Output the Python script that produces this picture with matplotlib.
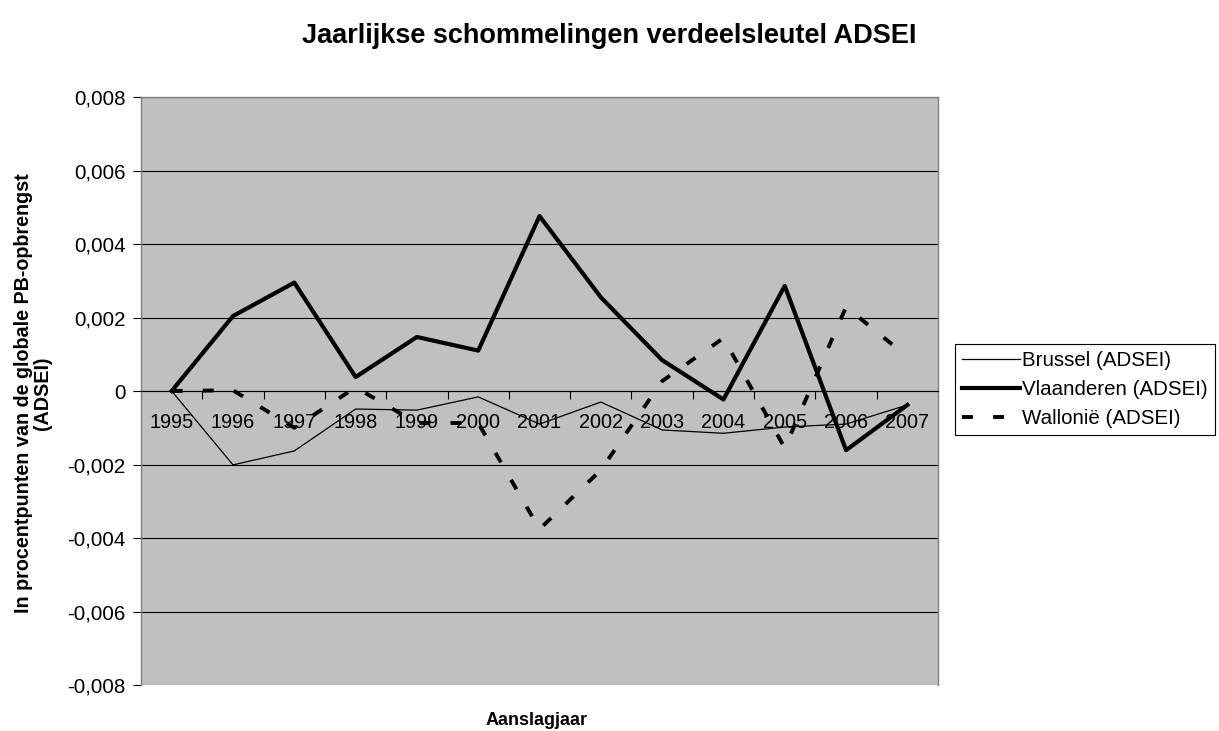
import matplotlib.pyplot as plt
import numpy as np

plt.rcParams['font.family'] = ['Liberation Sans', 'DejaVu Sans']

# aanslagjaren en jaarlijkse schommelingen per gewest
years = ['1995', '1996', '1997', '1998', '1999', '2000', '2001',
         '2002', '2003', '2004', '2005', '2006', '2007']
brussel = [0.0, -0.00201, -0.00163, -0.00049, -0.00052, -0.00016, -0.00090,
           -0.00030, -0.00106, -0.00115, -0.00098, -0.00090, -0.00038]
vlaanderen = [0.0, 0.00204, 0.00295, 0.00038, 0.00147, 0.00110, 0.00476,
              0.00255, 0.00084, -0.00023, 0.00286, -0.00161, -0.00038]
wallonie = [0.0, 0.00002, -0.00100, 0.00010, -0.00087, -0.00087, -0.00376,
            -0.00215, 0.00027, 0.00144, -0.00155, 0.00229, 0.00093]

y_ticks = [-0.008, -0.006, -0.004, -0.002, 0.0, 0.002, 0.004, 0.006, 0.008]
y_labels = ['-0,008', '-0,006', '-0,004', '-0,002', '0',
            '0,002', '0,004', '0,006', '0,008']

fig = plt.figure(figsize=(12.19, 7.31), dpi=100)
ax = fig.add_axes([0.1157, 0.0629, 0.6538, 0.8044])
ax.set_facecolor('#c0c0c0')

x = np.arange(len(years))
ax.plot(x, brussel, color='black', linewidth=0.9, label='Brussel (ADSEI)')
ax.plot(x, vlaanderen, color='black', linewidth=3.0, label='Vlaanderen (ADSEI)')
ax.plot(x, wallonie, color='black', linewidth=2.8, linestyle=(0, (2.8, 5.2)),
        label='Walloni\u00eb (ADSEI)')

# assen
ax.set_xlim(-0.5, len(years) - 0.5)
ax.set_ylim(-0.008, 0.008)
ax.set_yticks(y_ticks)
ax.set_yticklabels(y_labels, fontsize=14.8)
ax.yaxis.grid(True, color='black', linewidth=0.8)
ax.set_axisbelow(True)
ax.tick_params(axis='y', direction='out', length=6, width=0.8, pad=5)

ax.spines['bottom'].set_position(('data', 0))
ax.spines['bottom'].set_linewidth(0.8)
for side in ['left', 'top', 'right']:
    ax.spines[side].set_color('#808080')
    ax.spines[side].set_linewidth(1.0)

ax.set_xticks(x)
ax.set_xticklabels(years, fontsize=14.3)
ax.set_xticks(np.arange(0.5, len(years) - 0.5, 1.0), minor=True)
ax.tick_params(axis='x', which='major', length=0, pad=16)
ax.tick_params(axis='x', which='minor', direction='out', length=6, width=0.8)

fig.text(0.5, 0.951, 'Jaarlijkse schommelingen verdeelsleutel ADSEI',
         ha='center', va='center', fontsize=19.5, fontweight='bold')
fig.text(0.44, 0.0137, 'Aanslagjaar', ha='center', va='center',
         fontsize=13, fontweight='bold')
fig.text(0.027, 0.462, 'In procentpunten van de globale PB-opbrengst\n(ADSEI)',
         ha='center', va='center', rotation=90, fontsize=14.2,
         fontweight='bold', linespacing=1.0)

leg = ax.legend(loc='upper left', bbox_to_anchor=(0.7834, 0.5295),
                bbox_transform=fig.transFigure, fontsize=14.8, frameon=True,
                fancybox=False, edgecolor='black', framealpha=1,
                borderpad=0.35, labelspacing=0.48, handlelength=2.8,
                handletextpad=0.1, borderaxespad=0)
leg.get_frame().set_linewidth(0.8)

fig.savefig('out.png', dpi=100)
